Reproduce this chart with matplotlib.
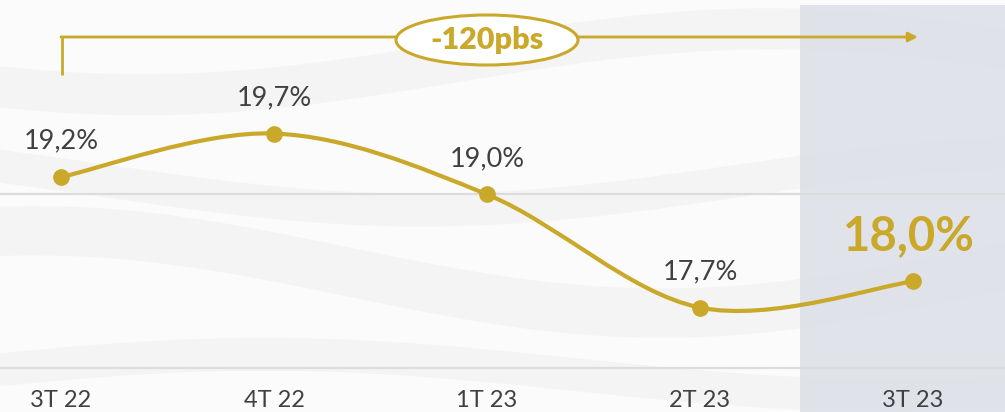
import numpy as np
import matplotlib.pyplot as plt
from matplotlib.patches import Ellipse, Rectangle, PathPatch
from matplotlib.path import Path

# datos
periods = ['3T 22', '4T 22', '1T 23', '2T 23', '3T 23']
values = [19.2, 19.7, 19.0, 17.7, 18.0]
value_labels = ['19,2%', '19,7%', '19,0%', '17,7%', '18,0%']
change_label = '-120pbs'

gold = '#C9A82A'
text_grey = '#404040'

plt.rcParams['font.family'] = ['Lato', 'DejaVu Sans']

fig = plt.figure(figsize=(10.05, 4.12), dpi=100)
fig.patch.set_facecolor('#fbfbfb')
ax = fig.add_axes([0, 0, 1, 1])
ax.set_xlim(-0.2864, 4.432)
ax.set_ylim(16.5, 21.234)
ax.axis('off')

# fondo con ondas suaves
xs = np.linspace(0, 1, 200)
for off, amp, th in [(0.80, 0.08, 0.10), (0.52, 0.07, 0.08), (0.28, 0.10, 0.12), (0.05, 0.05, 0.08)]:
    y1 = off + amp * np.sin(1.6 * np.pi * xs + off * 5)
    ax.fill_between(xs, y1, y1 + th, color='#e9e9e9', alpha=0.35, lw=0,
                    transform=ax.transAxes, zorder=0)

# columna sombreada del ultimo trimestre
ax.add_patch(Rectangle((3.47, 16.5), 2, 21.177 - 16.5, facecolor='#dfe2ea',
                       edgecolor='none', alpha=0.95, zorder=1))

# lineas de referencia
for g in [17.0, 19.0]:
    ax.axhline(g, color='#dcdcdc', lw=1.6, zorder=2)

# linea suavizada (estilo Excel)
x = np.arange(len(values), dtype=float)
pts = np.column_stack([x, values])
ext = np.vstack([pts[0], pts, pts[-1]])
verts = [tuple(pts[0])]
codes = [Path.MOVETO]
for i in range(len(pts) - 1):
    p0, p1, p2, p3 = ext[i], ext[i + 1], ext[i + 2], ext[i + 3]
    c1 = p1 + (p2 - p0) / 6
    c2 = p2 - (p3 - p1) / 6
    verts += [tuple(c1), tuple(c2), tuple(p2)]
    codes += [Path.CURVE4] * 3
ax.add_patch(PathPatch(Path(verts, codes), fill=False, edgecolor=gold, lw=3,
                       capstyle='round', zorder=3))
ax.plot(x, values, 'o', color=gold, ms=11, zorder=4)

# etiquetas de valores
for i, (v, lab) in enumerate(zip(values, value_labels)):
    if i == len(values) - 1:
        ax.annotate(lab, (i, v), xytext=(-3, 17), textcoords='offset points',
                    ha='center', va='bottom', fontsize=34, fontweight='bold',
                    color=gold, zorder=5)
    else:
        ax.annotate(lab, (i, v), xytext=(0, 17), textcoords='offset points',
                    ha='center', va='bottom', fontsize=19.5, color=text_grey,
                    zorder=5)

# etiquetas del eje
for i, p in enumerate(periods):
    ax.text(i, 16.5 + 5 / 87, p, ha='center', va='baseline', fontsize=17,
            color=text_grey, zorder=5)

# corchete con flecha
yb = 1 - 37 / 412
ax.plot([62 / 1005, 62 / 1005], [1 - 75 / 412, yb], color=gold, lw=2,
        transform=ax.transAxes, zorder=5, solid_capstyle='butt')
ax.annotate('', xy=(918 / 1005, yb), xytext=(61 / 1005, yb),
            xycoords='axes fraction', textcoords='axes fraction',
            arrowprops=dict(arrowstyle='-|>', color=gold, lw=2,
                            mutation_scale=14, shrinkA=0, shrinkB=0), zorder=5)
ax.add_patch(Ellipse((487 / 1005, 1 - 40 / 412), 182 / 1005, 50 / 412,
                     facecolor='white', edgecolor=gold, lw=2.2,
                     transform=ax.transAxes, zorder=6))
ax.text(487 / 1005, 1 - 40 / 412, change_label, ha='center', va='center',
        fontsize=22, fontweight='heavy', color=gold, transform=ax.transAxes,
        zorder=7)

fig.savefig('out.png', dpi=100, facecolor=fig.get_facecolor())
